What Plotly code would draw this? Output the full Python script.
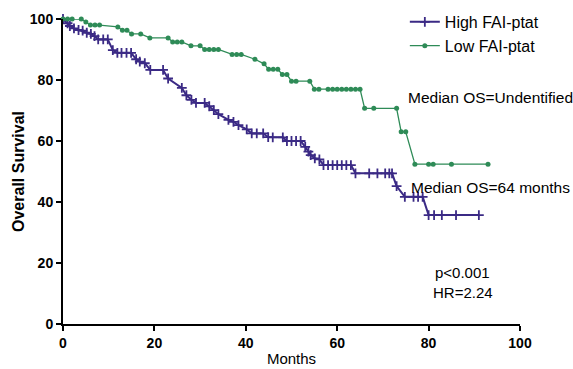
import plotly.graph_objects as go

# Low FAI-ptat (green)
low_t = [0, 1, 2, 4, 5, 6, 7, 8, 12, 13, 14, 15, 17, 19, 23, 24, 25, 26, 28, 30, 31, 32, 33, 34,
         37, 38, 39, 42, 44, 45, 46, 47, 48, 49, 50, 51, 54, 55, 56, 58, 59, 60, 61, 62, 63, 64, 65,
         66, 68, 73, 74, 75, 77, 80, 81, 85, 93]
low_s = [100, 100, 100, 100, 99, 98, 98, 98, 97.4, 96.3, 96.3, 95.1, 95.1, 93.8, 93.8, 92.5, 92.5,
         92.5, 91.2, 91.2, 90, 90, 90, 90, 88.4, 88.4, 88.4, 86.8, 85.3, 83.5, 83.5, 83.5, 81.8,
         81.8, 79.6, 79.6, 79.6, 77, 77, 77, 77, 77, 77, 77, 77, 77, 77, 70.7, 70.7, 70.7, 63, 63,
         52.4, 52.4, 52.4, 52.4, 52.4]

# High FAI-ptat (purple)
high_t = [0, 1, 1.5, 2.4, 3.4, 4.3, 5.2, 6.1, 6.9, 7.7, 8.8, 9.8, 10.9, 11.9, 12.8, 13.9, 14.9, 16,
          16.8, 17.9, 19.1, 21.9, 23, 26, 27, 28.1, 29.1, 31, 32, 33, 34, 36.2, 37.3, 38.4, 40.2,
          41.3, 42.4, 43.8, 44.9, 45.9, 48.1, 49, 50, 51, 52, 53, 53.7, 54.2, 55.1, 56.1, 57, 58,
          59, 60, 61, 62, 63, 64, 67, 68.8, 70.5, 71.4, 72, 73, 74.8, 76.7, 77.7, 78.7, 80, 81.2,
          82.9, 86, 91]
high_s = [100, 98.6, 97.7, 96.9, 96.4, 96.2, 95.5, 95.1, 94.4, 93.3, 93.3, 93.3, 89.8, 88.9, 88.9,
          88.9, 88.9, 86.8, 86, 85.5, 83.3, 83.3, 80.5, 77.4, 75, 73.5, 72.5, 72.5, 71.4, 70.1, 68.8,
          66.9, 66.3, 65.2, 63.8, 62.5, 62.5, 62.5, 61.3, 61.2, 61.2, 60, 60, 60, 60, 58.1, 56.5,
          55.4, 54.3, 54, 52.1, 52.1, 52.1, 52.1, 52.1, 52.1, 52.1, 49.4, 49.4, 49.4, 49.4, 49.4,
          49.4, 45.2, 41.7, 41.7, 41.7, 41.7, 35.7, 35.7, 35.7, 35.7, 35.7]

x_ticks = [0, 20, 40, 60, 80, 100]
y_ticks = [0, 20, 40, 60, 80, 100]

PURPLE = "#3b2a85"
GREEN = "#2e8b57"
FONT = "Arial, Liberation Sans, sans-serif"

fig = go.Figure()
fig.add_trace(go.Scatter(
    x=high_t, y=high_s, mode="lines+markers", name="High FAI-ptat",
    line=dict(color=PURPLE, width=2),
    marker=dict(symbol="cross-thin", size=7, line=dict(color=PURPLE, width=1.8)),
    cliponaxis=False,
))
fig.add_trace(go.Scatter(
    x=low_t, y=low_s, mode="lines+markers", name="Low FAI-ptat",
    line=dict(color=GREEN, width=1.3),
    marker=dict(symbol="circle", size=5, color=GREEN),
    cliponaxis=False,
))

fig.add_annotation(x=75.0, y=74.4, text="Median OS=Undentified", showarrow=False,
                   xanchor="left", yanchor="middle", font=dict(size=15.5, color="black", family=FONT))
fig.add_annotation(x=75.7, y=44.9, text="Median OS=64 months", showarrow=False,
                   xanchor="left", yanchor="middle", font=dict(size=15.5, color="black", family=FONT))
fig.add_annotation(x=87.5, y=16.9, text="p<0.001", showarrow=False,
                   xanchor="center", yanchor="middle", font=dict(size=15, color="black", family=FONT))
fig.add_annotation(x=87.5, y=10.4, text="HR=2.24", showarrow=False,
                   xanchor="center", yanchor="middle", font=dict(size=15, color="black", family=FONT))

fig.update_layout(
    width=573, height=369,
    margin=dict(l=63, r=53, t=19, b=45, autoexpand=False),
    paper_bgcolor="white", plot_bgcolor="white",
    font=dict(family=FONT, color="black"),
    showlegend=True,
    legend=dict(x=0.748, y=1.046, xanchor="left", yanchor="top",
                font=dict(size=16, color="black", family=FONT),
                bgcolor="rgba(0,0,0,0)", itemwidth=30, tracegroupgap=0),
    xaxis=dict(range=[0, 100], tickvals=x_ticks, ticktext=[str(v) for v in x_ticks],
               automargin=False,
               showgrid=False, zeroline=False, showline=True, linecolor="black", linewidth=2,
               ticks="outside", ticklen=5, tickwidth=2, tickcolor="black",
               tickfont=dict(size=14, family=FONT, weight="bold"),
               title=dict(text="Months", font=dict(size=15, family=FONT), standoff=4)),
    yaxis=dict(range=[0, 100], tickvals=y_ticks, ticktext=[str(v) for v in y_ticks],
               automargin=False,
               showgrid=False, zeroline=False, showline=True, linecolor="black", linewidth=2,
               ticks="outside", ticklen=5, tickwidth=2, tickcolor="black",
               tickfont=dict(size=14, family=FONT, weight="bold"),
               title=dict(text="Overall Survival", font=dict(size=16, family=FONT, weight="bold"),
                          standoff=1)),
)

fig.write_html("out.html", config={"displayModeBar": False},
               post_script="document.body.style.margin='0';")
